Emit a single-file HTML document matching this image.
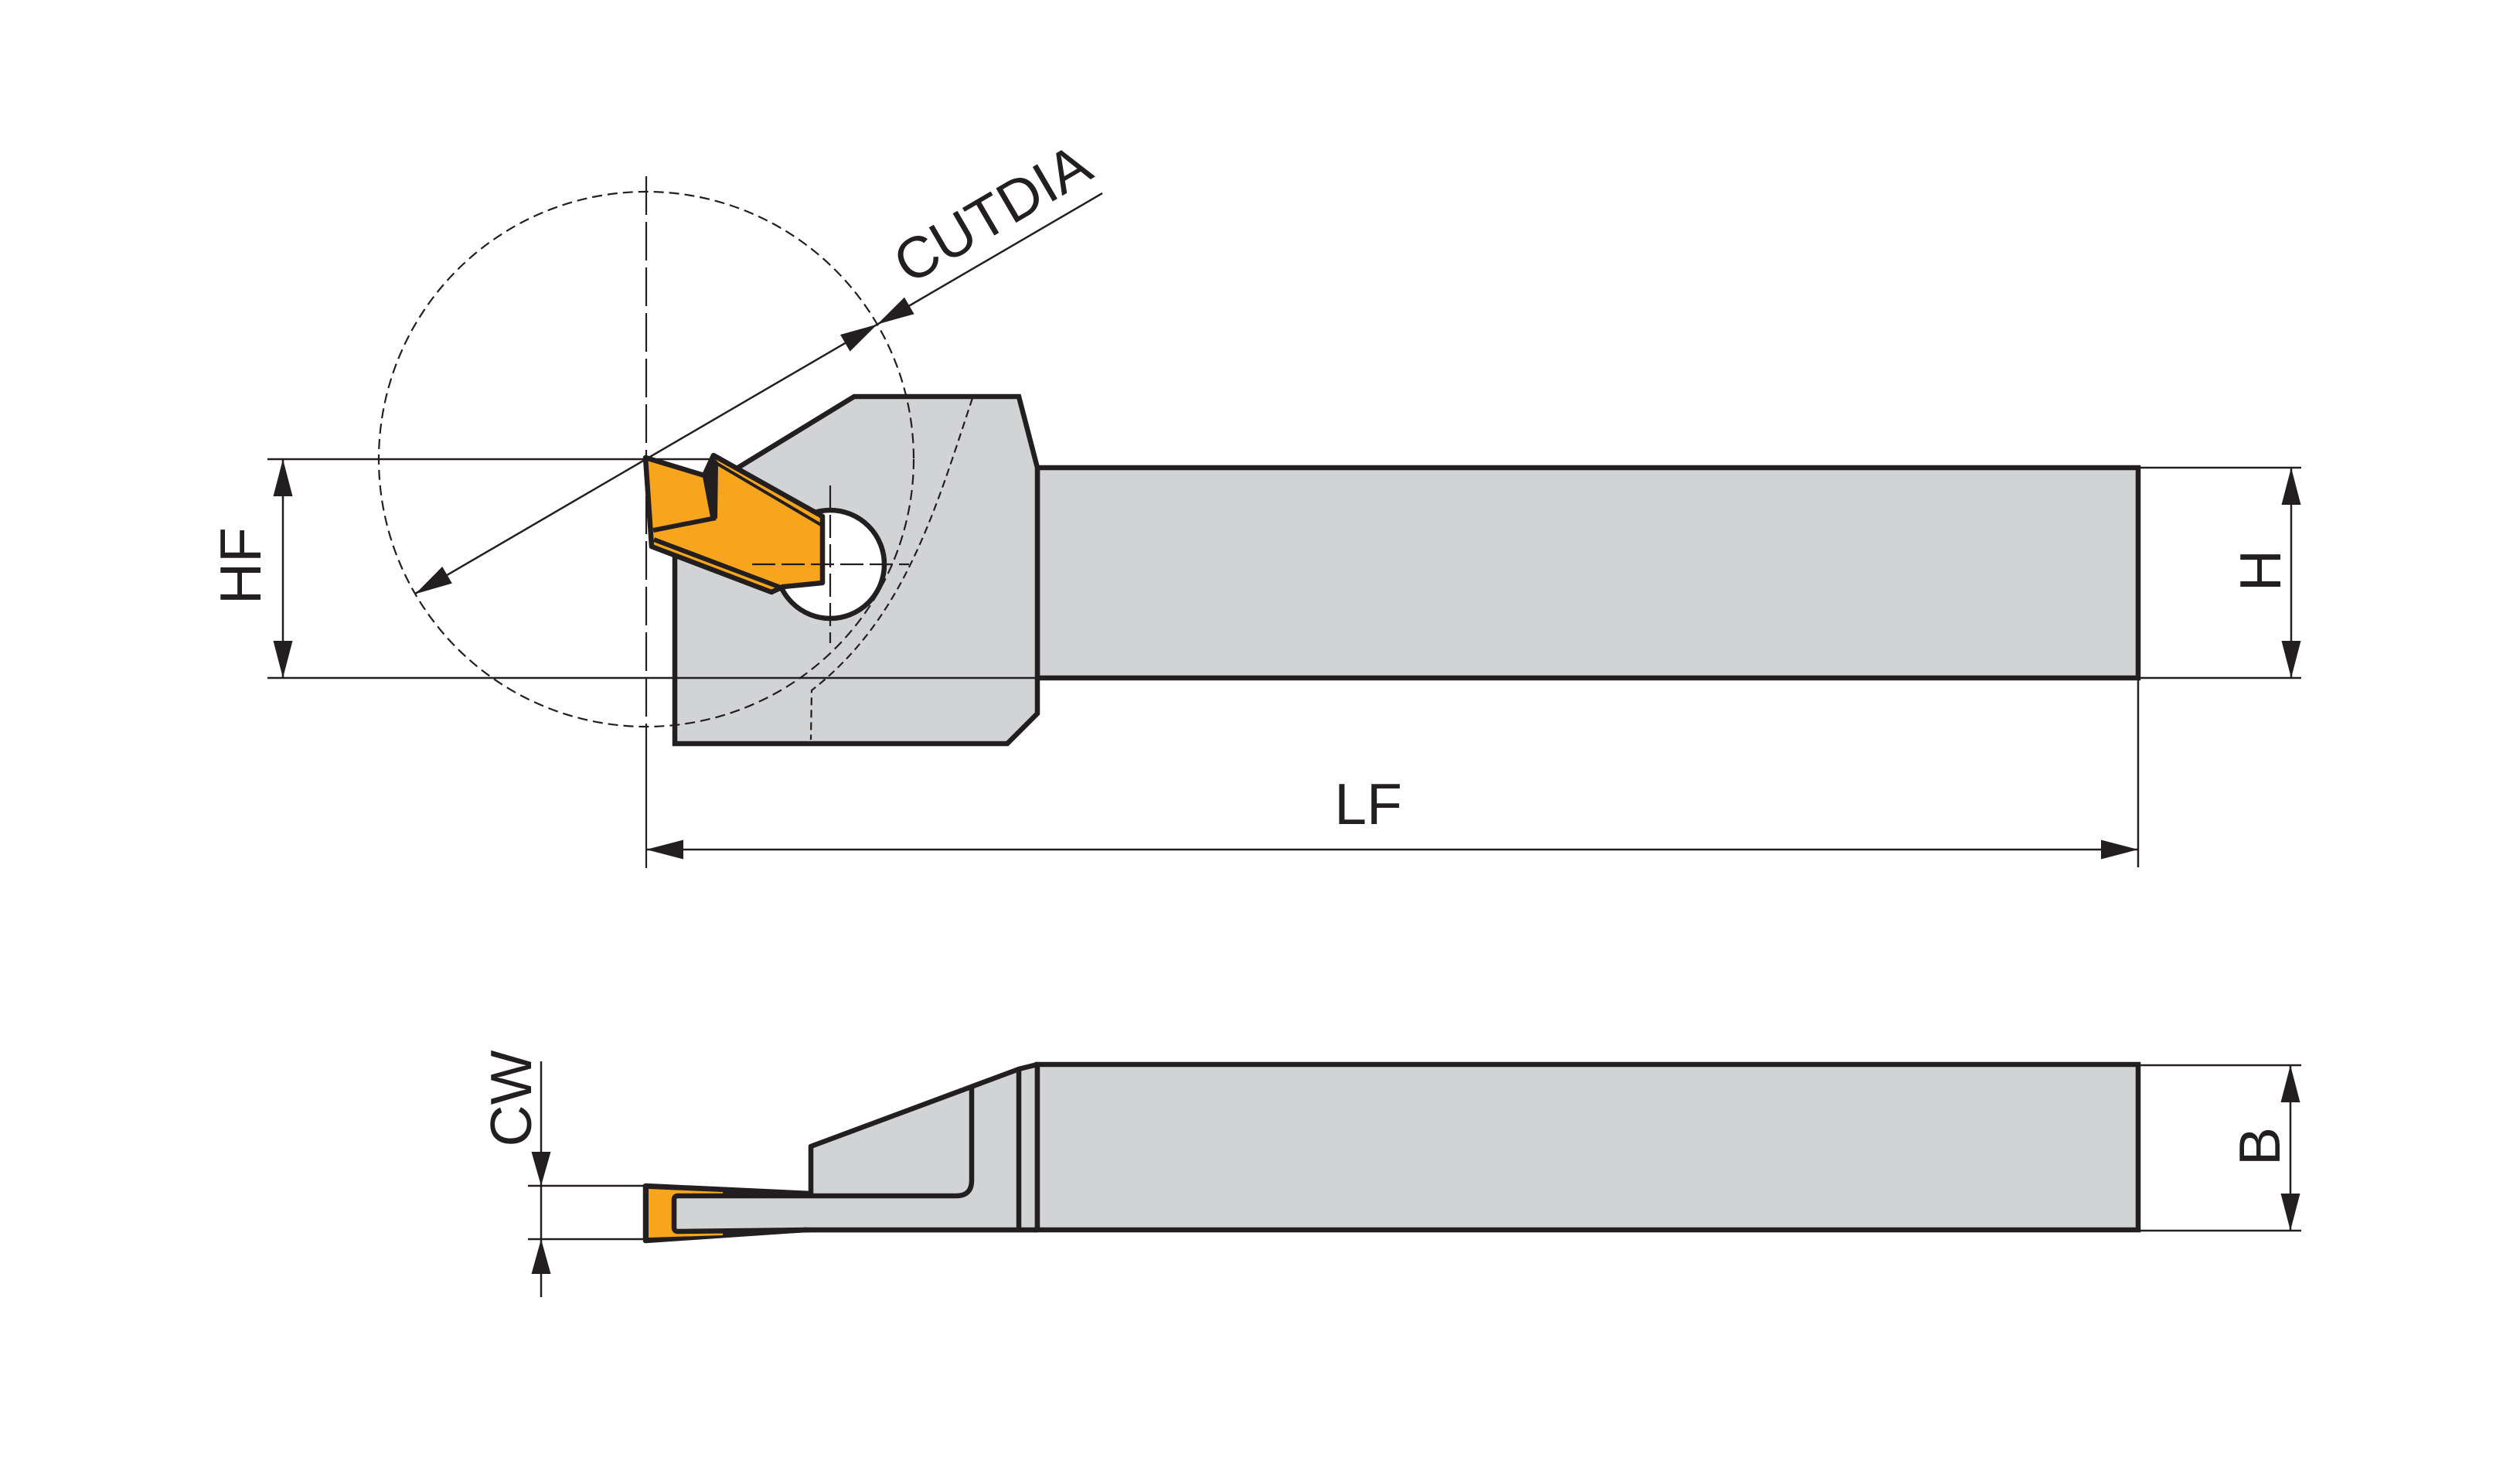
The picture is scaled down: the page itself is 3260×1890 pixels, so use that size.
<!DOCTYPE html>
<html>
<head>
<meta charset="utf-8">
<style>
html,body{margin:0;padding:0;background:#fff;}
svg{display:block;}
text{font-family:"Liberation Sans",Arial,sans-serif;font-size:75px;fill:#231f20;}
</style>
</head>
<body>
<svg width="3260" height="1890" viewBox="0 0 3260 1890" xmlns="http://www.w3.org/2000/svg">
<rect x="0" y="0" width="3260" height="1890" fill="#ffffff"/>

<!-- ================= TOP VIEW ================= -->
<!-- shank -->
<rect x="1342" y="605" width="1424" height="272" fill="#d1d3d4" stroke="#231f20" stroke-width="6.5"/>
<!-- head -->
<polygon points="873,655 1105,513 1318,513 1342,605 1342,923 1303,962 873,962" fill="#d1d3d4" stroke="#231f20" stroke-width="6.5" stroke-linejoin="miter"/>

<!-- second dashed curve -->
<path d="M1258,515 C1210,660 1170,800 1050,893 L1049,957" fill="none" stroke="#231f20" stroke-width="2.2" stroke-dasharray="10 6"/>

<!-- HF bottom extension line across head -->
<line x1="346" y1="877" x2="1342" y2="877" stroke="#231f20" stroke-width="2.5"/>
<!-- HF top extension line -->
<line x1="346" y1="594" x2="920" y2="594" stroke="#231f20" stroke-width="2.5"/>

<!-- hole -->
<circle cx="1074" cy="730" r="70" fill="#ffffff" stroke="#231f20" stroke-width="6.5"/>

<!-- insert -->
<polygon points="835,592 911,615 923,589 1064,668 1064,754 1013,759 998,766 843,707" fill="#f7a51d" stroke="#231f20" stroke-width="6.5" stroke-linejoin="round"/>
<polyline points="845,686 926,670" fill="none" stroke="#231f20" stroke-width="6"/>
<polygon points="909,617 922,590 929,598 928,671 919,669" fill="#231f20"/>
<line x1="928" y1="600" x2="1062" y2="679" stroke="#231f20" stroke-width="4"/>
<line x1="846" y1="698" x2="1010" y2="760" stroke="#231f20" stroke-width="6"/>

<!-- hole centre lines -->
<line x1="1074" y1="628" x2="1074" y2="832" stroke="#231f20" stroke-width="2.2" stroke-dasharray="30 8"/>
<line x1="973" y1="730" x2="1176" y2="730" stroke="#231f20" stroke-width="2.2" stroke-dasharray="30 8"/>

<!-- big dashed cutting circle -->
<circle cx="836" cy="594" r="346" fill="none" stroke="#231f20" stroke-width="2.2" stroke-dasharray="13 7"/>

<!-- vertical centre line -->
<line x1="836" y1="228" x2="836" y2="962" stroke="#231f20" stroke-width="2.2" stroke-dasharray="50 9"/>
<line x1="836" y1="962" x2="836" y2="1123" stroke="#231f20" stroke-width="2.2"/>

<!-- CUTDIA dimension -->
<line x1="537" y1="768" x2="1426" y2="250" stroke="#231f20" stroke-width="2.5"/>
<polygon points="537.2,768.4 584.8,754.6 572.2,733" fill="#231f20"/>
<polygon points="1134.8,419.6 1099.6,454.6 1087,433" fill="#231f20"/>
<polygon points="1134.8,419.6 1182.6,406.2 1170,384.6" fill="#231f20"/>
<text transform="translate(1176,369) rotate(-30.27)" text-anchor="start">CUTDIA</text>

<!-- HF dimension -->
<line x1="366" y1="594" x2="366" y2="877" stroke="#231f20" stroke-width="2.5"/>
<polygon points="366,594 353.5,642 378.5,642" fill="#231f20"/>
<polygon points="366,877 353.5,829 378.5,829" fill="#231f20"/>
<text transform="translate(337,732) rotate(-90)" text-anchor="middle">HF</text>

<!-- H dimension -->
<line x1="2766" y1="605" x2="2977" y2="605" stroke="#231f20" stroke-width="2.5"/>
<line x1="2766" y1="877" x2="2977" y2="877" stroke="#231f20" stroke-width="2.5"/>
<line x1="2964" y1="605" x2="2964" y2="877" stroke="#231f20" stroke-width="2.5"/>
<polygon points="2964,605 2951.5,653 2976.5,653" fill="#231f20"/>
<polygon points="2964,877 2951.5,829 2976.5,829" fill="#231f20"/>
<text transform="translate(2950,738) rotate(-90)" text-anchor="middle">H</text>

<!-- LF dimension -->
<line x1="2766" y1="877" x2="2766" y2="1122" stroke="#231f20" stroke-width="2.5"/>
<line x1="836" y1="1099" x2="2766" y2="1099" stroke="#231f20" stroke-width="2.5"/>
<polygon points="836,1099 884,1086.5 884,1111.5" fill="#231f20"/>
<polygon points="2766,1099 2718,1086.5 2718,1111.5" fill="#231f20"/>
<text x="1770" y="1066" text-anchor="middle">LF</text>

<!-- ================= SIDE VIEW ================= -->
<!-- outer body -->
<polygon points="835,1534 1049,1544 1049,1483 1318,1383 1342,1377 1342,1591 1040,1591 835,1605" fill="#d1d3d4" stroke="#231f20" stroke-width="6.5" stroke-linejoin="round"/>
<!-- insert black body -->
<polygon points="835,1534 1050,1544 1050,1594 835,1605" fill="#231f20"/>
<!-- insert orange -->
<polygon points="839,1538 935,1542 935,1598 839,1601" fill="#f7a51d"/>
<!-- blade fill -->
<rect x="872" y="1547" width="466" height="44" rx="5" fill="#d1d3d4"/>
<!-- blade outline -->
<path d="M1257,1404 L1257,1527 Q1257,1547 1237,1547 L877,1547 Q872,1547 872,1552 L872,1588 Q872,1593 877,1593 L1045,1591" fill="none" stroke="#231f20" stroke-width="6.5"/>
<line x1="1040" y1="1591" x2="1342" y2="1591" stroke="#231f20" stroke-width="6.5"/>
<line x1="1318" y1="1383" x2="1318" y2="1591" stroke="#231f20" stroke-width="6.5"/>
<!-- shank -->
<rect x="1342" y="1377" width="1424" height="214" fill="#d1d3d4" stroke="#231f20" stroke-width="6.5"/>

<!-- CW dimension -->
<line x1="683" y1="1534" x2="833" y2="1534" stroke="#231f20" stroke-width="2.5"/>
<line x1="683" y1="1603" x2="833" y2="1603" stroke="#231f20" stroke-width="2.5"/>
<line x1="700" y1="1373" x2="700" y2="1678" stroke="#231f20" stroke-width="2.5"/>
<polygon points="700,1534 687.5,1490 712.5,1490" fill="#231f20"/>
<polygon points="700,1603 687.5,1648 712.5,1648" fill="#231f20"/>
<text transform="translate(687,1421) rotate(-90)" text-anchor="middle">CW</text>

<!-- B dimension -->
<line x1="2766" y1="1378" x2="2977" y2="1378" stroke="#231f20" stroke-width="2.5"/>
<line x1="2766" y1="1592" x2="2977" y2="1592" stroke="#231f20" stroke-width="2.5"/>
<line x1="2963" y1="1378" x2="2963" y2="1592" stroke="#231f20" stroke-width="2.5"/>
<polygon points="2963,1378 2950.5,1426 2975.5,1426" fill="#231f20"/>
<polygon points="2963,1592 2950.5,1544 2975.5,1544" fill="#231f20"/>
<text transform="translate(2949,1483) rotate(-90)" text-anchor="middle">B</text>
</svg>
</body>
</html>
